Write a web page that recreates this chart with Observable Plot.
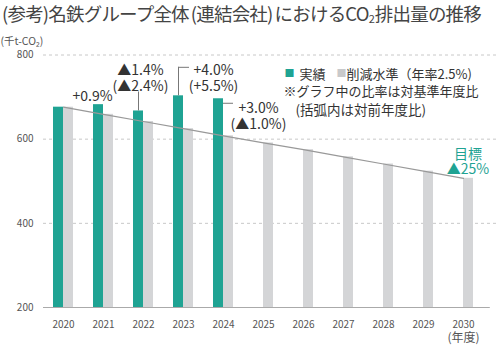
<!DOCTYPE html>
<html><head><meta charset="utf-8">
<script src="https://cdn.jsdelivr.net/npm/d3@7"></script>
<script src="https://cdn.jsdelivr.net/npm/@observablehq/plot@0.6"></script>
<style>
body{margin:0;background:#fff;font-family:"Noto Sans CJK JP","Noto Sans",sans-serif;}
#wrap{position:relative;width:500px;height:356px;overflow:hidden;}
#title{height:30px;font-size:18.5px;line-height:26px;color:#444;padding-left:2px;white-space:nowrap;letter-spacing:-0.8px;}
#title sub{font-size:11px;vertical-align:-2px;letter-spacing:0;}
#title .p{margin:0 2px;}
</style></head>
<body>
<div id="wrap">
<div id="title">(参考)名鉄グループ全体<span class="p">(連結会社)</span>におけるCO<sub>2</sub>排出量の推移</div>
<div id="chart"></div>
</div>
<script>
const years = [2020, 2021, 2022, 2023, 2024, 2025, 2026, 2027, 2028, 2029, 2030];
const actualYears = [2020, 2021, 2022, 2023, 2024];
const actual = [676, 682, 667, 703, 696];
const plan = [676, 659, 642, 625, 608, 591, 575, 558, 541, 524, 507];
const changeLabels = ["", "+0.9%", "▲1.4%\n(▲2.4%)", "+4.0%\n(+5.5%)", "+3.0%\n(▲1.0%)"];
const yTicks = [200, 400, 600, 800];
const unitLabel = "(千t-CO₂)";
const legendActual = "実績";
const legendPlan = "削減水準（年率2.5%)";
const note1 = "※グラフ中の比率は対基準年度比";
const note2 = "(括弧内は対前年度比)";
const targetLabel = "目標\n▲25%";
const yearUnit = "(年度)";

const TEAL = "#1fa393", GREY = "#d4d5d7", TXT = "#333";
const actualData = actualYears.map((y, i) => ({year: y, v: actual[i], label: changeLabels[i]}));
const planData = years.map((y, i) => ({year: y, v: plan[i]}));
const byYear = y => actualData.filter(d => d.year === y);
const W = 0.25;
const AF = 14, ALH = 16 / 14;

const chart = Plot.plot({
  width: 500, height: 326,
  marginLeft: 43, marginRight: 3, marginTop: 24.5, marginBottom: 49,
  style: {fontFamily: '"Noto Sans CJK JP","Noto Sans",sans-serif', color: "#555", background: "transparent"},
  x: {type: "linear", domain: [2019.5, 2030.85], ticks: years, tickFormat: d => String(d), tickSize: 0, tickPadding: 13, label: null},
  y: {domain: [200, 800], ticks: yTicks, tickSize: 0, tickPadding: 10, label: null},
  marks: [
    Plot.ruleY(yTicks.filter(t => t > 200), {stroke: "#c8c8c8", strokeDasharray: "3,3"}),
    Plot.rectY(planData, {x1: d => d.year, x2: d => d.year + W, y1: 200, y2: "v", fill: GREY}),
    Plot.rectY(actualData, {x1: d => d.year - W, x2: d => d.year, y1: 200, y2: "v", fill: TEAL}),
    Plot.ruleY([200], {x1: 2019.5, x2: 2030.67, stroke: "#aaa", strokeWidth: 1}),
    Plot.line(planData, {x: "year", y: "v", stroke: "#999", strokeWidth: 1.2}),
    // leaders
    Plot.ruleX(byYear(2022), {x: d => d.year - W / 2, y1: "v", y2: "v", insetTop: -19, stroke: "#777"}),
    Plot.ruleX(byYear(2023), {x: d => d.year - W / 2, y1: "v", y2: "v", insetTop: -28.5, stroke: "#777"}),
    Plot.ruleY(byYear(2023), {y: "v", x1: d => d.year - W / 2, x2: d => d.year - W / 2, insetRight: -11, dy: -28.5, stroke: "#777"}),
    Plot.ruleY(byYear(2024), {y: "v", x1: d => d.year, x2: d => d.year, insetRight: -10, dy: 4.5, stroke: "#777"}),
    // annotations
    Plot.text(byYear(2021), {x: d => d.year - W / 2, y: "v", text: "label", dx: -6, dy: -8, fontSize: AF, fill: TXT}),
    Plot.text(byYear(2022), {x: d => d.year - W / 2, y: "v", text: "label", dx: 2, dy: -20, lineAnchor: "bottom", lineHeight: ALH, fontSize: AF, fill: TXT}),
    Plot.text(byYear(2023), {x: d => d.year - W / 2, y: "v", text: "label", dx: 35, dy: -5, lineAnchor: "bottom", lineHeight: ALH, fontSize: AF, fill: TXT}),
    Plot.text(byYear(2024), {x: d => d.year - W / 2, y: "v", text: "label", dx: 40, dy: 30, lineAnchor: "bottom", lineHeight: ALH, fontSize: AF, fill: TXT}),
    Plot.text(planData.filter(d => d.year === 2030), {x: "year", y: "v", text: () => targetLabel, dx: 4.5, dy: -4, lineAnchor: "bottom", lineHeight: 15 / 14, fontSize: 14, fill: TEAL}),
    // unit + year unit
    Plot.text([unitLabel], {frameAnchor: "top-left", text: d => d, dx: -43, dy: -17, textAnchor: "start", fontSize: 10.5, fill: "#555"}),
    Plot.text([yearUnit], {x: () => 2030, frameAnchor: "bottom", text: d => d, dy: 34.5, fontSize: 12, fill: "#555"}),
    // legend
    Plot.text(["■"], {frameAnchor: "top-left", text: d => d, dx: 241, dy: 14.5, textAnchor: "start", fontSize: 10, fill: TEAL}),
    Plot.text([legendActual], {frameAnchor: "top-left", text: d => d, dx: 256, dy: 14.5, textAnchor: "start", fontSize: 13, fill: TXT}),
    Plot.text(["■"], {frameAnchor: "top-left", text: d => d, dx: 293, dy: 14.5, textAnchor: "start", fontSize: 10, fill: "#c8c9cb"}),
    Plot.text([legendPlan], {frameAnchor: "top-left", text: d => d, dx: 303, dy: 14.5, textAnchor: "start", fontSize: 13, fill: TXT}),
    Plot.text([note1], {frameAnchor: "top-left", text: d => d, dx: 240, dy: 32, textAnchor: "start", fontSize: 13, fill: TXT}),
    Plot.text([note2], {frameAnchor: "top-left", text: d => d, dx: 252, dy: 50.5, textAnchor: "start", fontSize: 13.5, fill: TXT})
  ]
});
document.getElementById("chart").appendChild(chart);
</script>
</body></html>
